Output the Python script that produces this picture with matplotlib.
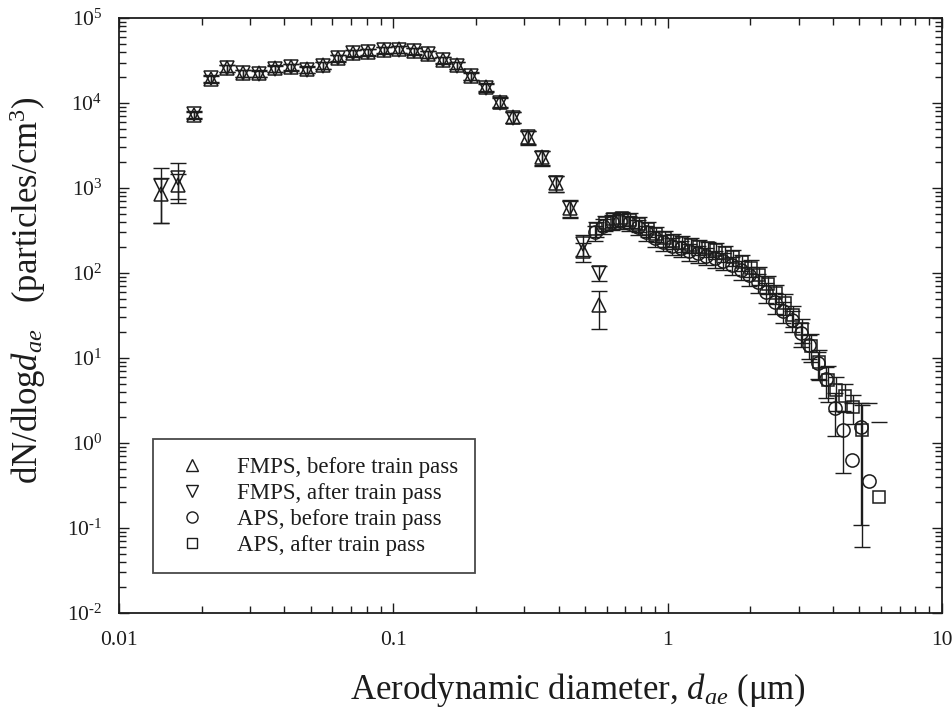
import numpy as np
import matplotlib
matplotlib.use("Agg")
import matplotlib.pyplot as plt
from matplotlib.ticker import LogLocator, NullFormatter, FixedLocator, FixedFormatter, FuncFormatter

plt.rcParams['font.family'] = 'Liberation Serif'
plt.rcParams['mathtext.fontset'] = 'custom'
plt.rcParams['mathtext.rm'] = 'Liberation Serif'
plt.rcParams['mathtext.it'] = 'Liberation Serif:italic'

# FMPS channels (aerodynamic diameter, um)
fmps_d = [0.01419, 0.01645, 0.01877, 0.02159, 0.02482, 0.02838, 0.03246, 0.03705,
          0.04227, 0.04859, 0.05557, 0.06302, 0.07146, 0.08106, 0.09250, 0.1049,
          0.1190, 0.1341, 0.1514, 0.1703, 0.1920, 0.2169, 0.2449, 0.2739,
          0.3090, 0.3475, 0.3918, 0.4406, 0.4903, 0.5637]
fmps_before = [850, 1100, 7200, 19000, 25600, 22300, 22300, 25600, 26700, 24900,
               28000, 34100, 39100, 40200, 42100, 42900, 41200, 37700, 32100, 28000,
               21000, 15500, 10350, 6900, 4020, 2300, 1135, 577, 180, 42]
fmps_after = [1050, 1320, 7400, 19500, 25600, 22300, 22000, 25300, 26400, 24600,
              27600, 33700, 38700, 39800, 41700, 42500, 40800, 37300, 31700, 27600,
              20700, 15200, 10150, 6750, 3950, 2280, 1150, 590, 220, 100]
fmps_before_sd = [460, 360, 700, 1800, 2400, 2000, 2000, 2300, 2400, 2200,
                  2500, 3000, 3500, 3600, 3800, 3900, 3700, 3400, 2900, 2600,
                  2100, 1700, 1300, 1000, 700, 450, 240, 130, 45, 20]
fmps_after_sd = [660, 660, 700, 1800, 2400, 2000, 2000, 2300, 2400, 2200,
                 2500, 3000, 3500, 3600, 3800, 3900, 3700, 3400, 2900, 2600,
                 2100, 1700, 1300, 1000, 700, 450, 240, 130, 60, 20]

# APS channels (um)
aps_d = [0.542, 0.583, 0.626, 0.673, 0.723, 0.777, 0.835, 0.898, 0.965, 1.037,
         1.114, 1.197, 1.286, 1.382, 1.486, 1.596, 1.715, 1.843, 1.981, 2.129,
         2.288, 2.458, 2.642, 2.839, 3.051, 3.278, 3.523, 3.786, 4.068, 4.371,
         4.698, 5.048, 5.425, 5.829]
aps_before = [300, 360, 400, 410, 390, 350, 300, 260, 230, 210,
              195, 180, 170, 160, 150, 140, 125, 110, 95, 78,
              60, 46, 36, 28, 19.5, 14.2, 8.7, 5.6, 2.56, 1.42,
              0.63, 1.53, 0.36, np.nan]
aps_after = [330, 390, 430, 440, 420, 380, 330, 290, 260, 240,
             225, 215, 205, 195, 185, 170, 155, 135, 115, 95,
             75, 58, 44, 32, 22, 14, 9, 5.5, 4.2, 3.6,
             2.67, 1.42, np.nan, 0.23]
aps_before_sd = [60, 70, 80, 80, 80, 70, 60, 55, 50, 45,
                 42, 40, 38, 36, 34, 32, 30, 27, 24, 20,
                 16, 13, 10, 8, 6, 4.5, 3, 2.2, 1.36, 0.98,
                 2.3, 1.42, 2.57, np.nan]
aps_after_sd = [65, 75, 85, 85, 85, 75, 65, 60, 55, 50,
                48, 45, 42, 40, 38, 36, 33, 30, 26, 22,
                18, 15, 12, 9, 7, 5, 3.5, 2.5, 1.8, 1.3,
                1.0, 1.36, np.nan, 1.55]

col = '#1c1c1c'


def draw(ax, x, y, sd, marker, ms):
    x = np.asarray(x, float)
    y = np.asarray(y, float)
    sd = np.asarray(sd, float)
    lo = np.where(y - sd > 0, sd, np.nan)
    ax.errorbar(x, y, yerr=[lo, sd], fmt='none', ecolor=col, elinewidth=1.0,
                capsize=6, capthick=1.0, zorder=2)
    ax.plot(x, y, linestyle='none', marker=marker, ms=ms, mfc='none',
            mec=col, mew=1.1, zorder=3)


def pow_label(v, pos):
    e = int(round(np.log10(v)))
    if e < 0:
        return r'$10^{\text{-%d}}$' % (-e)
    return r'$10^{%d}$' % e


fig = plt.figure(figsize=(9.52, 7.11), dpi=100)
ax = fig.add_axes([0.125, 0.1378, 0.8645, 0.8368])

draw(ax, fmps_d, fmps_before, fmps_before_sd, '^', 10)
draw(ax, fmps_d, fmps_after, fmps_after_sd, 'v', 10)
draw(ax, aps_d, aps_before, aps_before_sd, 'o', 9.5)
draw(ax, np.asarray(aps_d) * 1.012, aps_after, aps_after_sd, 's', 8.5)

ax.set_xscale('log')
ax.set_yscale('log')
ax.set_xlim(0.01, 10)
ax.set_ylim(1e-2, 1e5)

ax.xaxis.set_major_locator(FixedLocator([0.01, 0.1, 1, 10]))
ax.xaxis.set_major_formatter(FixedFormatter(['0.01', '0.1', '1', '10']))
ax.xaxis.set_minor_locator(LogLocator(base=10, subs=np.arange(2, 10), numticks=20))
ax.yaxis.set_major_locator(LogLocator(base=10, numticks=20))
ax.yaxis.set_major_formatter(FuncFormatter(pow_label))
ax.yaxis.set_minor_locator(LogLocator(base=10, subs=np.arange(2, 10), numticks=20))
ax.xaxis.set_minor_formatter(NullFormatter())
ax.yaxis.set_minor_formatter(NullFormatter())

ax.tick_params(which='both', direction='in', top=True, right=True,
               color=col, width=1.0, labelsize=15.5, labelcolor=col)
ax.tick_params(which='major', length=7)
ax.tick_params(which='minor', length=5)
ax.tick_params(axis='x', pad=13)
ax.tick_params(axis='y', pad=12)
for s in ax.spines.values():
    s.set_linewidth(1.3)
    s.set_color(col)

ax.set_xlabel('Aerodynamic diameter, $d_{ae}$ (\u03bcm)', fontsize=25, color=col)
ax.set_ylabel('dN/dlog$d_{ae}$   (particles/cm$^{3}$)', fontsize=25, color=col)
ax.xaxis.set_label_coords(0.558, -0.098)
ax.yaxis.set_label_coords(-0.086, 0.543)

handles = [
    ax.plot([], [], ls='none', marker='^', ms=8, mfc='none', mec=col, mew=1.0)[0],
    ax.plot([], [], ls='none', marker='v', ms=8, mfc='none', mec=col, mew=1.0)[0],
    ax.plot([], [], ls='none', marker='o', ms=8, mfc='none', mec=col, mew=1.0)[0],
    ax.plot([], [], ls='none', marker='s', ms=7, mfc='none', mec=col, mew=1.0)[0],
]
labels = ['FMPS, before train pass', 'FMPS, after train pass',
          'APS, before train pass', 'APS, after train pass']
leg = ax.legend(handles, labels, loc='lower left', bbox_to_anchor=(0.0413, 0.0672),
                fontsize=16.5, frameon=True, fancybox=False, edgecolor=col,
                borderpad=0.75, labelspacing=0.22, handlelength=1.9,
                handletextpad=1.0, numpoints=1, borderaxespad=0)
leg.get_frame().set_linewidth(1.3)
for t in leg.get_texts():
    t.set_color(col)

fig.savefig('out.png', dpi=100)
